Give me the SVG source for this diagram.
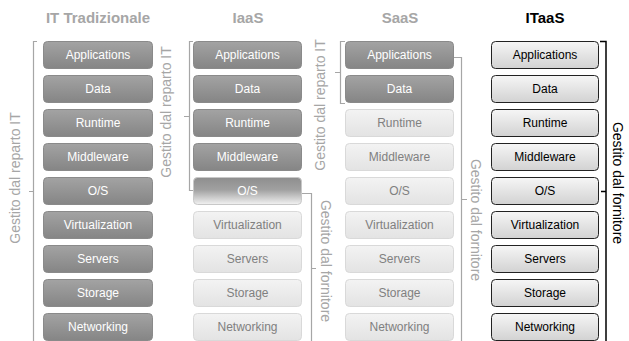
<svg xmlns="http://www.w3.org/2000/svg" width="629" height="341" viewBox="0 0 629 341">
<defs>
<linearGradient id="gDark" x1="0" y1="0" x2="0" y2="1"><stop offset="0" stop-color="#a3a3a3"/><stop offset="1" stop-color="#858585"/></linearGradient>
<linearGradient id="gLight" x1="0" y1="0" x2="0" y2="1"><stop offset="0" stop-color="#f3f3f3"/><stop offset="1" stop-color="#e3e3e3"/></linearGradient>
<linearGradient id="gMix" x1="0" y1="0" x2="0" y2="1"><stop offset="0" stop-color="#8e8e8e"/><stop offset="0.45" stop-color="#a0a0a0"/><stop offset="1" stop-color="#f2f2f2"/></linearGradient>
<linearGradient id="gIt" x1="0" y1="0" x2="0" y2="1"><stop offset="0" stop-color="#f6f6f6"/><stop offset="1" stop-color="#d2d2d2"/></linearGradient>
</defs>
<style>
text{font-family:"Liberation Sans",Arial,sans-serif;}
.title{font-size:15px;font-weight:bold;fill:#a6a6a6;text-anchor:middle;}
.lbl{font-size:12px;text-anchor:middle;dominant-baseline:central;}
.dark rect{fill:url(#gDark);stroke:#8a8a8a;stroke-width:1;}
.dark text{fill:#ffffff;}
.light rect{fill:url(#gLight);stroke:#d9d9d9;stroke-width:1;}
.light text{fill:#808080;}
.mix rect{fill:url(#gMix);stroke:#c8c8c8;stroke-width:1;}
.mix text{fill:#ffffff;}
.it rect{fill:url(#gIt);stroke:#222;stroke-width:1;}
.it text{fill:#000;}
.br{fill:none;stroke:#a6a6a6;stroke-width:1.2;}
.brk{fill:none;stroke:#000;stroke-width:1.5;}
.side{font-size:14px;fill:#a6a6a6;text-anchor:middle;dominant-baseline:central;}
</style>
<rect width="629" height="341" fill="#fff"/>
<text class="title" x="98" y="23">IT Tradizionale</text>
<text class="title" x="248" y="23">IaaS</text>
<text class="title" x="400" y="23">SaaS</text>
<text class="title" x="545" y="23" style="fill:#000">ITaaS</text>

<g id="col-it">
<g id="it-app" class="dark"><rect x="43.5" y="41.5" width="109" height="27" rx="4"/><text class="lbl" x="98" y="55">Applications</text></g>
<g id="it-data" class="dark"><rect x="43.5" y="75.5" width="109" height="27" rx="4"/><text class="lbl" x="98" y="89">Data</text></g>
<g id="it-rt" class="dark"><rect x="43.5" y="109.5" width="109" height="27" rx="4"/><text class="lbl" x="98" y="123">Runtime</text></g>
<g id="it-mw" class="dark"><rect x="43.5" y="143.5" width="109" height="27" rx="4"/><text class="lbl" x="98" y="157">Middleware</text></g>
<g id="it-os" class="dark"><rect x="43.5" y="177.5" width="109" height="27" rx="4"/><text class="lbl" x="98" y="191">O/S</text></g>
<g id="it-virt" class="dark"><rect x="43.5" y="211.5" width="109" height="27" rx="4"/><text class="lbl" x="98" y="225">Virtualization</text></g>
<g id="it-srv" class="dark"><rect x="43.5" y="245.5" width="109" height="27" rx="4"/><text class="lbl" x="98" y="259">Servers</text></g>
<g id="it-sto" class="dark"><rect x="43.5" y="279.5" width="109" height="27" rx="4"/><text class="lbl" x="98" y="293">Storage</text></g>
<g id="it-net" class="dark"><rect x="43.5" y="313.5" width="109" height="27" rx="4"/><text class="lbl" x="98" y="327">Networking</text></g>
</g>

<g id="col-iaas">
<g id="iaas-app" class="dark"><rect x="193.5" y="41.5" width="108" height="27" rx="4"/><text class="lbl" x="247.5" y="55">Applications</text></g>
<g id="iaas-data" class="dark"><rect x="193.5" y="75.5" width="108" height="27" rx="4"/><text class="lbl" x="247.5" y="89">Data</text></g>
<g id="iaas-rt" class="dark"><rect x="193.5" y="109.5" width="108" height="27" rx="4"/><text class="lbl" x="247.5" y="123">Runtime</text></g>
<g id="iaas-mw" class="dark"><rect x="193.5" y="143.5" width="108" height="27" rx="4"/><text class="lbl" x="247.5" y="157">Middleware</text></g>
<g id="iaas-os" class="mix"><rect x="193.5" y="177.5" width="108" height="27" rx="4"/><text class="lbl" x="247.5" y="191">O/S</text></g>
<g id="iaas-virt" class="light"><rect x="193.5" y="211.5" width="108" height="27" rx="4"/><text class="lbl" x="247.5" y="225">Virtualization</text></g>
<g id="iaas-srv" class="light"><rect x="193.5" y="245.5" width="108" height="27" rx="4"/><text class="lbl" x="247.5" y="259">Servers</text></g>
<g id="iaas-sto" class="light"><rect x="193.5" y="279.5" width="108" height="27" rx="4"/><text class="lbl" x="247.5" y="293">Storage</text></g>
<g id="iaas-net" class="light"><rect x="193.5" y="313.5" width="108" height="27" rx="4"/><text class="lbl" x="247.5" y="327">Networking</text></g>
</g>

<g id="col-saas">
<g id="saas-app" class="dark"><rect x="345.5" y="41.5" width="108" height="27" rx="4"/><text class="lbl" x="399.5" y="55">Applications</text></g>
<g id="saas-data" class="dark"><rect x="345.5" y="75.5" width="108" height="27" rx="4"/><text class="lbl" x="399.5" y="89">Data</text></g>
<g id="saas-rt" class="light"><rect x="345.5" y="109.5" width="108" height="27" rx="4"/><text class="lbl" x="399.5" y="123">Runtime</text></g>
<g id="saas-mw" class="light"><rect x="345.5" y="143.5" width="108" height="27" rx="4"/><text class="lbl" x="399.5" y="157">Middleware</text></g>
<g id="saas-os" class="light"><rect x="345.5" y="177.5" width="108" height="27" rx="4"/><text class="lbl" x="399.5" y="191">O/S</text></g>
<g id="saas-virt" class="light"><rect x="345.5" y="211.5" width="108" height="27" rx="4"/><text class="lbl" x="399.5" y="225">Virtualization</text></g>
<g id="saas-srv" class="light"><rect x="345.5" y="245.5" width="108" height="27" rx="4"/><text class="lbl" x="399.5" y="259">Servers</text></g>
<g id="saas-sto" class="light"><rect x="345.5" y="279.5" width="108" height="27" rx="4"/><text class="lbl" x="399.5" y="293">Storage</text></g>
<g id="saas-net" class="light"><rect x="345.5" y="313.5" width="108" height="27" rx="4"/><text class="lbl" x="399.5" y="327">Networking</text></g>
</g>

<g id="col-itaas">
<g id="itaas-app" class="it"><rect x="491.5" y="41.5" width="107" height="27" rx="4"/><text class="lbl" x="545" y="55">Applications</text></g>
<g id="itaas-data" class="it"><rect x="491.5" y="75.5" width="107" height="27" rx="4"/><text class="lbl" x="545" y="89">Data</text></g>
<g id="itaas-rt" class="it"><rect x="491.5" y="109.5" width="107" height="27" rx="4"/><text class="lbl" x="545" y="123">Runtime</text></g>
<g id="itaas-mw" class="it"><rect x="491.5" y="143.5" width="107" height="27" rx="4"/><text class="lbl" x="545" y="157">Middleware</text></g>
<g id="itaas-os" class="it"><rect x="491.5" y="177.5" width="107" height="27" rx="4"/><text class="lbl" x="545" y="191">O/S</text></g>
<g id="itaas-virt" class="it"><rect x="491.5" y="211.5" width="107" height="27" rx="4"/><text class="lbl" x="545" y="225">Virtualization</text></g>
<g id="itaas-srv" class="it"><rect x="491.5" y="245.5" width="107" height="27" rx="4"/><text class="lbl" x="545" y="259">Servers</text></g>
<g id="itaas-sto" class="it"><rect x="491.5" y="279.5" width="107" height="27" rx="4"/><text class="lbl" x="545" y="293">Storage</text></g>
<g id="itaas-net" class="it"><rect x="491.5" y="313.5" width="107" height="27" rx="4"/><text class="lbl" x="545" y="327">Networking</text></g>
</g>

<g id="brackets">
<path class="br" d="M37,41.5 H33.5 V341 M33.5,191.5 H29"/>
<path class="br" d="M193,41.5 H189.5 V190.5 H193 M189.5,116.5 H184"/>
<path class="br" d="M302,193.5 H311.5 V341 M311.5,268.5 H316"/>
<path class="br" d="M345,41.5 H340.5 V103.5 H345 M340.5,72.5 H335"/>
<path class="br" d="M454,57.5 H461.5 V341 M461.5,199.5 H467"/>
<path class="brk" d="M600,41.5 H606 V341 M606,191.5 H601"/>
</g>

<g id="side-labels">
<text class="side" transform="translate(15,178) rotate(-90)">Gestito dal reparto IT</text>
<text class="side" transform="translate(166,112) rotate(-90)">Gestito dal reparto IT</text>
<text class="side" transform="translate(326,261) rotate(90)">Gestito dal fornitore</text>
<text class="side" transform="translate(320,105) rotate(-90)">Gestito dal reparto IT</text>
<text class="side" transform="translate(476,220) rotate(90)">Gestito dal fornitore</text>
<text class="side" transform="translate(618,183) rotate(90)" style="fill:#000">Gestito dal fornitore</text>
</g>
</svg>
